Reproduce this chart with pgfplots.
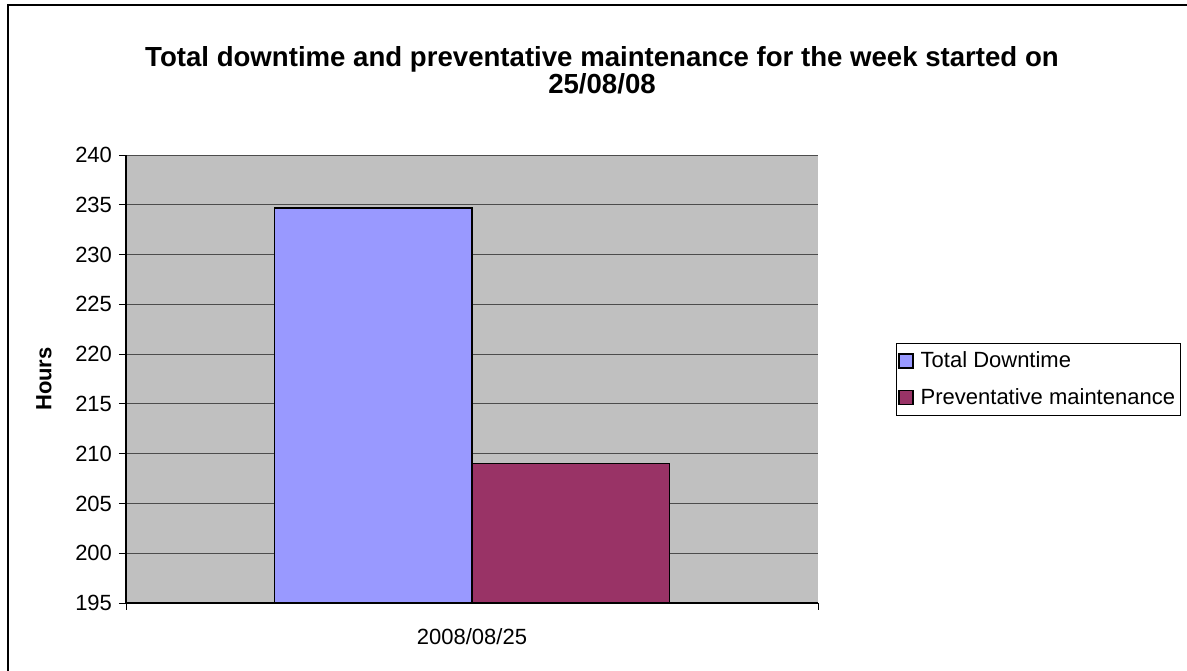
\documentclass[border=0pt]{standalone}
\usepackage{pgfplots}
\pgfplotsset{compat=1.18}
\usepackage{fontspec}
\setmainfont{Liberation Sans}
\definecolor{barblue}{HTML}{9999FF}
\definecolor{barplum}{HTML}{993366}
\definecolor{plotgray}{HTML}{C0C0C0}
\begin{document}
\begin{tikzpicture}
\useasboundingbox (0,0) rectangle (593.5bp,335.5bp);
\draw[line width=0.75bp] (4bp,0) -- (4bp,333bp) -- (593.5bp,333bp);
\node[font=\fontsize{13.8bp}{13.5bp}\selectfont\bfseries, align=center] at (301bp,300.5bp)
  {Total downtime and preventative maintenance for the week started on\\25/08/08};
\begin{axis}[
  at={(63bp,34bp)}, anchor=south west,
  scale only axis, width=346bp, height=224bp,
  axis background/.style={fill=plotgray},
  xmin=-1, xmax=1, ymin=195, ymax=240,
  ytick={195,200,...,240},
  xtick={0}, xticklabels={2008/08/25},
  minor xtick={-1,1},
  axis x line*=bottom, axis y line*=left,
  axis line style={line width=0.6bp, black},
  ymajorgrids, grid style={line width=0.5bp, black!70},
  tick align=outside,
  x tick style={draw=none},
  minor x tick style={draw=black, line width=0.5bp},
  minor tick length=3.5bp,
  y tick style={black, line width=0.5bp},
  major tick length=3.5bp,
  tick label style={font=\fontsize{11bp}{13bp}\selectfont},
  /pgf/number format/assume math mode=true,
  xticklabel style={yshift=-6bp},
  ylabel={Hours},
  ylabel style={font=\fontsize{11bp}{13bp}\selectfont\bfseries, yshift=5bp},
  ybar=0pt, bar width=0.571,
  clip=false,
  legend style={at={(1.1127,0.5804)}, anchor=north west, draw=black, line width=0.5bp,
    font=\fontsize{11bp}{13bp}\selectfont, row sep=5bp, inner ysep=2bp, inner xsep=1bp,
    nodes={inner xsep=1.5bp}},
  legend cell align=left,
  legend image code/.code={\draw[#1, line width=0.6bp] (0bp,-3.5bp) rectangle (7bp,3.5bp);},
]
\addplot[fill=barblue, draw=black, line width=0.8bp] coordinates {(0,234.7)};
\addplot[fill=barplum, draw=black, line width=0.8bp] coordinates {(0,209.0)};
\legend{\hspace{2bp}Total Downtime, \hspace{2bp}Preventative maintenance}
\end{axis}
\end{tikzpicture}
\end{document}
